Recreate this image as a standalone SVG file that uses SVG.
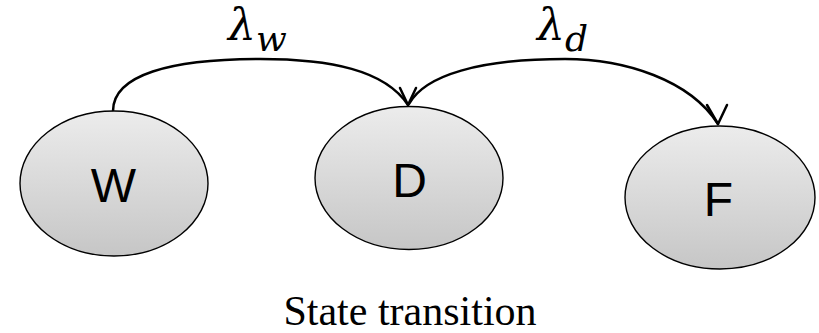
<svg xmlns="http://www.w3.org/2000/svg" width="819" height="333" viewBox="0 0 819 333">
<defs>
<linearGradient id="g" x1="0" y1="0" x2="0" y2="1">
<stop offset="0" stop-color="#ececec"/>
<stop offset="1" stop-color="#c6c6c6"/>
</linearGradient>
<style>
.node{fill:url(#g);stroke:#000;stroke-width:1.4}
.lab{font-family:"Liberation Sans",Arial,sans-serif;font-size:48px;fill:#000;text-anchor:middle}
.edge{fill:none;stroke:#000;stroke-width:2.5;stroke-linecap:round;stroke-linejoin:round}
.math{font-family:"DejaVu Serif","Liberation Serif",serif;font-style:italic;fill:#000}
.cap{font-family:"Liberation Serif","Times New Roman",serif;font-size:42px;fill:#000;text-anchor:middle}
</style>
</defs>
<rect width="819" height="333" fill="#fff"/>
<g id="connectors">
<path class="edge" d="M113,111 C113,75 170,59 260,59 C330,59 385,70 408,105"/>
<path class="edge" d="M400,88 L408,105 L416,88"/>
<path class="edge" d="M409,104 C425,75 480,59 565,59 C625,59 690,80 718,124"/>
<path class="edge" d="M707,105 L718,124 L727,105"/>
</g>
<g id="node-W">
<ellipse class="node" cx="114" cy="183.5" rx="94" ry="72.5"/>
<text class="lab" x="113.5" y="201.5">W</text>
</g>
<g id="node-D">
<ellipse class="node" cx="409" cy="178" rx="94" ry="71.5"/>
<text class="lab" x="409.5" y="197.3">D</text>
</g>
<g id="node-F">
<ellipse class="node" cx="720" cy="197.5" rx="95" ry="71.5"/>
<text class="lab" x="718.5" y="215.7">F</text>
</g>
<g id="label-lw">
<text class="math" x="228" y="40" font-size="44">λ<tspan font-size="36" dy="11">w</tspan></text>
</g>
<g id="label-ld">
<text class="math" x="537" y="40" font-size="44">λ<tspan font-size="36" dy="11">d</tspan></text>
</g>
<text class="cap" x="410" y="325">State transition</text>
</svg>
